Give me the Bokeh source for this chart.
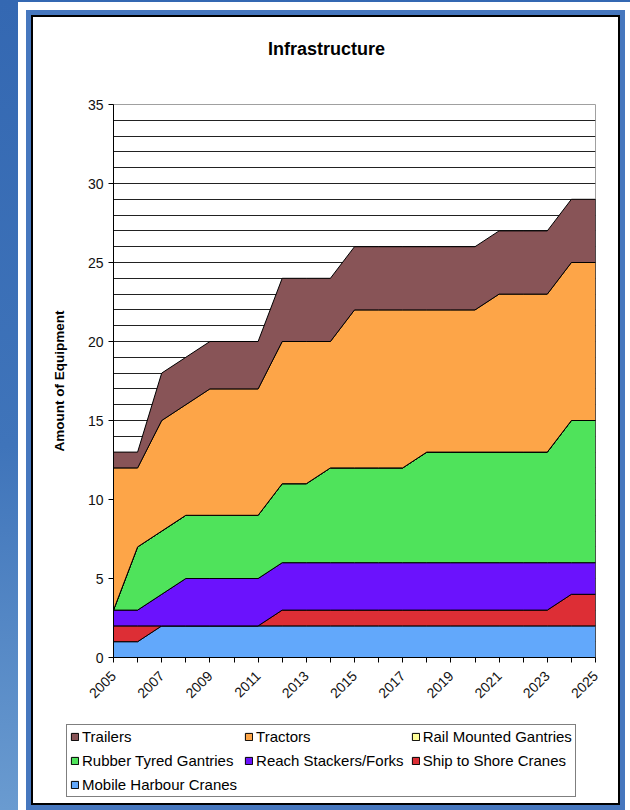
import math
from bokeh.plotting import figure
from bokeh.models import FixedTicker, Legend, LegendItem, Range1d, Label
from bokeh.layouts import column
from bokeh.embed import file_html
from bokeh.resources import INLINE

# ---- data ----
years = list(range(2005, 2026))
mobile_harbour_cranes = [1, 1, 2, 2, 2, 2, 2, 2, 2, 2, 2, 2, 2, 2, 2, 2, 2, 2, 2, 2, 2]
ship_to_shore_cranes = [1, 1, 0, 0, 0, 0, 0, 1, 1, 1, 1, 1, 1, 1, 1, 1, 1, 1, 1, 2, 2]
reach_stackers = [1, 1, 2, 3, 3, 3, 3, 3, 3, 3, 3, 3, 3, 3, 3, 3, 3, 3, 3, 2, 2]
rubber_tyred_gantries = [0, 4, 4, 4, 4, 4, 4, 5, 5, 6, 6, 6, 6, 7, 7, 7, 7, 7, 7, 9, 9]
rail_mounted_gantries = [0, 0, 0, 0, 0, 0, 0, 0, 0, 0, 0, 0, 0, 0, 0, 0, 0, 0, 0, 0, 0]
tractors = [9, 5, 7, 7, 8, 8, 8, 9, 9, 8, 10, 10, 10, 9, 9, 9, 10, 10, 10, 10, 10]
trailers = [1, 1, 3, 3, 3, 3, 3, 4, 4, 4, 4, 4, 4, 4, 4, 4, 4, 4, 4, 4, 4]

series_names = ["Mobile Harbour Cranes", "Ship to Shore Cranes", "Reach Stackers/Forks",
                "Rubber Tyred Gantries", "Rail Mounted Gantries", "Tractors", "Trailers"]
series_values = [mobile_harbour_cranes, ship_to_shore_cranes, reach_stackers,
                 rubber_tyred_gantries, rail_mounted_gantries, tractors, trailers]
series_colors = ["#62A8FB", "#DD2E35", "#6B12FD", "#4FE35B", "#FFFF99", "#FDA548", "#885457"]

y_ticks = [0, 5, 10, 15, 20, 25, 30, 35]
title_text = "Infrastructure"

FONT = "Liberation Sans"


def strip(height):
    f = figure(width=585, height=height, x_range=Range1d(0, 1), y_range=Range1d(0, 1),
               output_backend="svg", toolbar_location=None,
               min_border=0, min_border_left=0, min_border_right=0,
               min_border_top=0, min_border_bottom=0,
               background_fill_color="white", border_fill_color="white")
    f.xaxis.visible = False
    f.yaxis.visible = False
    f.grid.visible = False
    f.outline_line_color = None
    if "frame_align" in f.properties():
        f.frame_align = False
    return f


# ---------------- title strip ----------------
tf = strip(53)
tf.add_layout(Label(x=293, y=22, x_units="screen", y_units="screen", text=title_text,
                    text_align="center", text_baseline="alphabetic",
                    text_font=FONT, text_font_size="18px", text_font_style="bold",
                    text_color="#000000"))

# ---------------- chart ----------------
p = figure(width=585, height=647,
           x_range=Range1d(2005, 2025), y_range=Range1d(0, 35),
           output_backend="svg", toolbar_location=None,
           min_border_left=80, min_border_right=23,
           min_border_top=34, min_border_bottom=60,
           background_fill_color="white", border_fill_color="white")
if "frame_align" in p.properties():
    p.frame_align = False

p.outline_line_color = "#a0a0a0"
p.outline_line_width = 1

p.xgrid.visible = False
p.ygrid.ticker = FixedTicker(ticks=list(range(0, 36)))
p.ygrid.grid_line_color = "#222222"
p.ygrid.grid_line_width = 1

lower = [0] * len(years)
for name, vals, col in zip(series_names, series_values, series_colors):
    upper = [a + b for a, b in zip(lower, vals)]
    xs = years + years[::-1]
    ys = upper + lower[::-1]
    p.patch(xs, ys, fill_color=col, line_color="#000000", line_width=1)
    lower = upper

for ax in (p.xaxis[0], p.yaxis[0]):
    ax.axis_line_color = "#000000"
    ax.axis_line_width = 1
    ax.major_tick_line_color = "#000000"
    ax.major_tick_out = 5
    ax.major_tick_in = 0
    ax.minor_tick_line_color = None
    ax.major_label_text_font = FONT
    ax.major_label_text_font_size = "14px"
    ax.major_label_text_color = "#111111"

p.yaxis.ticker = FixedTicker(ticks=y_ticks)
p.yaxis.major_label_standoff = 5
p.yaxis.axis_label = "Amount of Equipment"
p.yaxis.axis_label_text_font = FONT
p.yaxis.axis_label_text_font_size = "13.5px"
p.yaxis.axis_label_text_font_style = "bold"
p.yaxis.axis_label_text_color = "#000000"
p.yaxis.axis_label_standoff = 18

p.xaxis.ticker = FixedTicker(ticks=years)
p.xaxis.major_label_overrides = {y: ("" if (y - 2005) % 2 else str(y)) for y in years}
p.xaxis.major_label_orientation = math.pi / 4
p.xaxis.major_label_standoff = 11

# ---------------- legend strip ----------------
lf = strip(86)
dummy = {}
for name, col in zip(series_names, series_colors):
    # keys drawn only in the legend: the patch lies outside the visible range
    dummy[name] = lf.patch([2, 3, 3], [2, 2, 3], fill_color=col,
                           line_color="#000000", line_width=1)

items = [LegendItem(label=n, renderers=[dummy[n]]) for n in reversed(series_names)]
legend = Legend(items=items, location=(33, 6), orientation="horizontal", ncols=3,
                glyph_width=9, glyph_height=9, label_standoff=3,
                label_text_font=FONT, label_text_font_size="15px",
                label_text_color="#000000", label_height=14,
                spacing=7, padding=3, margin=0,
                border_line_color="#000000", border_line_width=1,
                background_fill_color="white", background_fill_alpha=1.0)
lf.add_layout(legend, "center")

panel = column(tf, p, lf, width=585, height=786, sizing_mode="fixed", spacing=0,
               margin=(17, 0, 0, 33),
               styles={"background": "#ffffff",
                       "box-shadow": "0 0 0 2px #000000, 0 0 0 7px #4677BE, 0 0 0 15px #ffffff"})

page = column(panel, width=630, height=810, sizing_mode="fixed",
              styles={"background": "linear-gradient(180deg, #3468B2 0%, #3F74BA 55%, #6A9BD0 100%)",
                      "overflow": "hidden"})

open("out.html", "w").write(file_html(page, INLINE))
